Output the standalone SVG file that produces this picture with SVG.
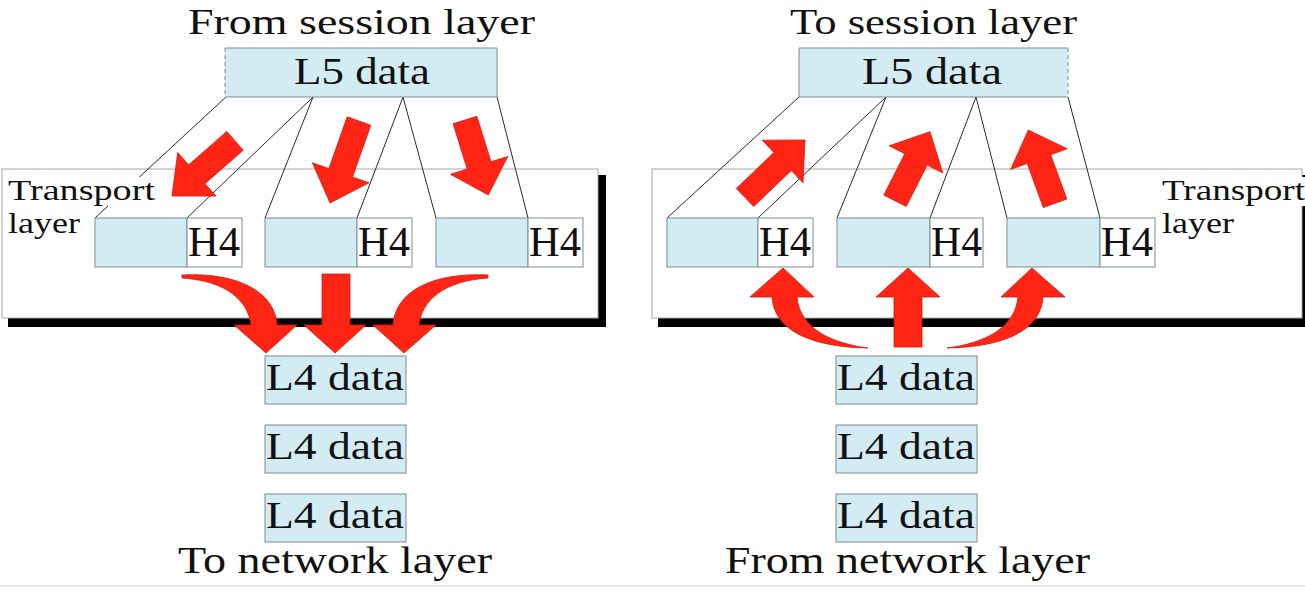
<svg xmlns="http://www.w3.org/2000/svg" width="1305" height="594" viewBox="0 0 1305 594">
<style>
.t{font-family:"Liberation Serif","Times New Roman",serif;fill:#111}
.blue{fill:#d3ebf3}
.edge{fill:none;stroke:#7d8d90;stroke-width:1}
.dash{fill:none;stroke:#7d8d90;stroke-width:1;stroke-dasharray:4 3}
.hbox{fill:#fff;stroke:#7d8d90;stroke-width:1}
.pbox{fill:#d3ebf3;stroke:#7d8d90;stroke-width:1}
.tl{fill:#fff;stroke:#a8a8a8;stroke-width:1}
.ln{stroke:#2a2a2a;stroke-width:1;fill:none}
.arr{fill:#ff2414;stroke:#d8180c;stroke-width:0.8;stroke-linejoin:round}
</style>
<rect width="1305" height="594" fill="#fff"/>

<!-- Transport layer frames -->
<g id="transport-left">
<rect x="8" y="175" width="598" height="152" fill="#000"/>
<rect class="tl" x="2" y="169" width="596" height="149"/>
</g>
<g id="transport-right">
<rect x="658" y="175" width="660" height="152" fill="#000"/>
<rect class="tl" x="652" y="169" width="650" height="149"/>
</g>

<!-- Connectors: thin split lines -->
<g id="connectors">
<line class="ln" x1="226" y1="97" x2="95" y2="218"/>
<line class="ln" x1="313" y1="97" x2="187" y2="218"/>
<line class="ln" x1="313" y1="97" x2="265" y2="218"/>
<line class="ln" x1="403" y1="97" x2="357" y2="218"/>
<line class="ln" x1="403" y1="97" x2="436" y2="218"/>
<line class="ln" x1="497" y1="97" x2="528" y2="218"/>
<line class="ln" x1="799" y1="97" x2="667" y2="218"/>
<line class="ln" x1="886" y1="97" x2="758" y2="218"/>
<line class="ln" x1="886" y1="97" x2="837" y2="218"/>
<line class="ln" x1="976" y1="97" x2="930" y2="218"/>
<line class="ln" x1="976" y1="97" x2="1007" y2="218"/>
<line class="ln" x1="1068" y1="97" x2="1100" y2="218"/>
</g>

<!-- Titles -->
<g id="title-left"><text class="t" x="188" y="34" font-size="36" textLength="347" lengthAdjust="spacingAndGlyphs">From session layer</text></g>
<g id="title-right"><text class="t" x="790" y="34" font-size="36" textLength="287" lengthAdjust="spacingAndGlyphs">To session layer</text></g>

<!-- L5 boxes -->
<g id="l5-left">
<rect class="blue" x="225" y="48" width="272" height="49"/>
<path class="edge" d="M225,48 H497 V97 H225"/>
<line class="dash" x1="225" y1="48" x2="225" y2="97"/>
<text class="t" x="294" y="84" font-size="38" textLength="136" lengthAdjust="spacingAndGlyphs">L5 data</text>
</g>
<g id="l5-right">
<rect class="blue" x="799" y="48" width="269" height="49"/>
<path class="edge" d="M1068,48 H799 V97 H1068"/>
<line class="dash" x1="1068" y1="48" x2="1068" y2="97"/>
<text class="t" x="862" y="84" font-size="38" textLength="140" lengthAdjust="spacingAndGlyphs">L5 data</text>
</g>

<!-- Packets left -->
<g id="packet-l1"><rect class="pbox" x="95" y="218" width="92" height="49"/><rect class="hbox" x="187" y="218" width="55" height="49"/><text class="t" x="188" y="256" font-size="42" textLength="52" lengthAdjust="spacingAndGlyphs">H4</text></g>
<g id="packet-l2"><rect class="pbox" x="265" y="218" width="92" height="49"/><rect class="hbox" x="357" y="218" width="55" height="49"/><text class="t" x="358" y="256" font-size="42" textLength="52" lengthAdjust="spacingAndGlyphs">H4</text></g>
<g id="packet-l3"><rect class="pbox" x="436" y="218" width="92" height="49"/><rect class="hbox" x="528" y="218" width="55" height="49"/><text class="t" x="529" y="256" font-size="42" textLength="52" lengthAdjust="spacingAndGlyphs">H4</text></g>

<!-- Packets right -->
<g id="packet-r1"><rect class="pbox" x="667" y="218" width="91" height="49"/><rect class="hbox" x="758" y="218" width="55" height="49"/><text class="t" x="759" y="256" font-size="42" textLength="52" lengthAdjust="spacingAndGlyphs">H4</text></g>
<g id="packet-r2"><rect class="pbox" x="837" y="218" width="93" height="49"/><rect class="hbox" x="930" y="218" width="53" height="49"/><text class="t" x="931" y="256" font-size="42" textLength="51" lengthAdjust="spacingAndGlyphs">H4</text></g>
<g id="packet-r3"><rect class="pbox" x="1007" y="218" width="93" height="49"/><rect class="hbox" x="1100" y="218" width="55" height="49"/><text class="t" x="1101" y="256" font-size="42" textLength="52" lengthAdjust="spacingAndGlyphs">H4</text></g>

<!-- Transport labels -->
<g id="label-transport-left">
<rect x="5" y="177" width="152" height="29" fill="#fff"/>
<text class="t" x="8" y="200" font-size="29" textLength="147" lengthAdjust="spacingAndGlyphs">Transport</text>
<text class="t" x="8" y="233" font-size="29" textLength="72" lengthAdjust="spacingAndGlyphs">layer</text>
</g>
<g id="label-transport-right">
<rect x="1159" y="177" width="146" height="29" fill="#fff"/>
<text class="t" x="1162" y="200" font-size="29" textLength="143" lengthAdjust="spacingAndGlyphs">Transport</text>
<text class="t" x="1162" y="233" font-size="29" textLength="72" lengthAdjust="spacingAndGlyphs">layer</text>
</g>

<!-- Red block arrows -->
<g id="arrows">
<polygon class="arr" points="243.2,150.2 205,183.7 215.9,196.1 172,196 177.7,152.5 188.6,164.9 226.8,131.4"/>
<polygon class="arr" points="370.8,125.2 352.5,177 369,182.8 330,203 312.4,162.8 328.9,168.6 347.2,116.8"/>
<polygon class="arr" points="453.1,123.7 467.2,169.1 450.4,174.3 488.3,195 507.8,156.5 491,161.7 476.9,116.3"/>
<polygon class="arr" points="736.3,188.5 753.7,206.5 791.3,170.5 803,182.8 805,140 762.2,140.2 773.9,152.5"/>
<polygon class="arr" points="883.8,195.1 906.2,206.5 927.2,165.1 942.8,173 930,131.7 889.2,145.8 904.8,153.7"/>
<polygon class="arr" points="1043.3,207.6 1066.8,199 1050.7,154.8 1067.1,148.8 1028.3,130 1010.7,169.4 1027.2,163.4"/>

<path class="arr" d="M182,275 C238,272 275,292 277,325 L297,325 L266,353 L234,325 L251,325 C248,300 226,281 182,278 Z"/>
<path class="arr" d="M322,274 L350,274 L350,325 L366,325 L335,353 L304,325 L322,325 Z"/>
<path class="arr" d="M488,275 C432,272 395,292 393,325 L373,325 L404,353 L436,325 L419,325 C422,300 444,281 488,278 Z"/>

<path class="arr" d="M772,297 C774,330 810,347 868,348 C830,343 800,328 797,297 L814,297 L783,268 L750,297 Z"/>
<path class="arr" d="M894,347 L922,347 L922,297 L940,297 L908,268 L876,297 L894,297 Z"/>
<path class="arr" d="M1043,297 C1041,330 1005,347 947,348 C985,343 1015,328 1018,297 L1001,297 L1032,268 L1065,297 Z"/>
</g>

<!-- L4 boxes left -->
<g id="l4-left-1"><rect class="pbox" x="265" y="356" width="141" height="48"/><text class="t" x="266" y="390" font-size="38" textLength="138" lengthAdjust="spacingAndGlyphs">L4 data</text></g>
<g id="l4-left-2"><rect class="pbox" x="265" y="425" width="141" height="48"/><text class="t" x="266" y="459" font-size="38" textLength="138" lengthAdjust="spacingAndGlyphs">L4 data</text></g>
<g id="l4-left-3"><rect class="pbox" x="265" y="494" width="141" height="48"/><text class="t" x="266" y="528" font-size="38" textLength="138" lengthAdjust="spacingAndGlyphs">L4 data</text></g>

<!-- L4 boxes right -->
<g id="l4-right-1"><rect class="pbox" x="836" y="356" width="141" height="48"/><text class="t" x="837" y="390" font-size="38" textLength="138" lengthAdjust="spacingAndGlyphs">L4 data</text></g>
<g id="l4-right-2"><rect class="pbox" x="836" y="425" width="141" height="48"/><text class="t" x="837" y="459" font-size="38" textLength="138" lengthAdjust="spacingAndGlyphs">L4 data</text></g>
<g id="l4-right-3"><rect class="pbox" x="836" y="494" width="141" height="48"/><text class="t" x="837" y="528" font-size="38" textLength="138" lengthAdjust="spacingAndGlyphs">L4 data</text></g>

<g id="bottom-left"><text class="t" x="178" y="573" font-size="37" textLength="314" lengthAdjust="spacingAndGlyphs">To network layer</text></g>
<g id="bottom-right"><text class="t" x="725" y="573" font-size="37" textLength="365" lengthAdjust="spacingAndGlyphs">From network layer</text></g>

<line x1="0" y1="586" x2="1305" y2="586" stroke="#d0d0d0" stroke-width="1"/>
</svg>
